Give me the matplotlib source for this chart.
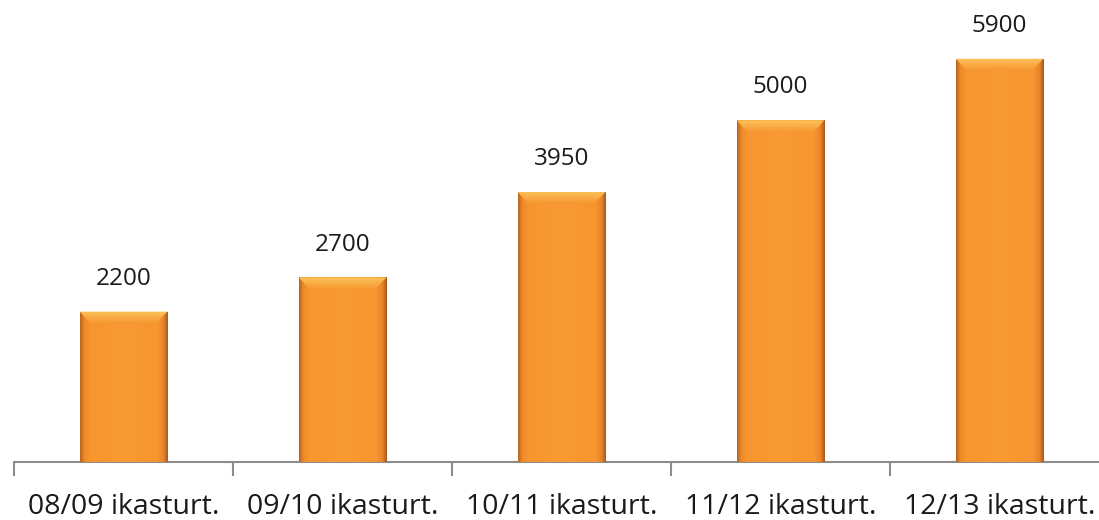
import numpy as np
import matplotlib
matplotlib.use("Agg")
import matplotlib.pyplot as plt
from matplotlib.colors import LinearSegmentedColormap
from matplotlib.patches import Polygon

categories = ["08/09 ikasturt.", "09/10 ikasturt.", "10/11 ikasturt.", "11/12 ikasturt.", "12/13 ikasturt."]
values = [2200, 2700, 3950, 5000, 5900]

W, H = 1099, 520
fig = plt.figure(figsize=(W / 100, H / 100), dpi=100)
ax = fig.add_axes([14 / W, 58 / H, 1095 / W, 462 / H])
ax.set_xlim(-0.5, 4.5)
ax.set_ylim(0, 6760)

x = np.arange(len(categories))
bars = ax.bar(x, values, width=0.4, color="#F5952F", edgecolor="none", zorder=2)

cmap = LinearSegmentedColormap.from_list(
    "bev", [(0.0, "#B8641C"), (0.05, "#EE8A2A"), (0.12, "#F7952F"), (0.5, "#F99A34"),
            (0.88, "#F7952F"), (0.95, "#E9852A"), (1.0, "#A9591A")])
grad = np.linspace(0, 1, 256).reshape(1, -1)
vcmap = LinearSegmentedColormap.from_list("vb", ["#F7952F", "#FCC35A"])
vgrad = np.linspace(0, 1, 64).reshape(-1, 1)
for b in bars:
    x0, w, h = b.get_x(), b.get_width(), b.get_height()
    im = ax.imshow(grad, cmap=cmap, aspect="auto", extent=(x0, x0 + w, 0, h), zorder=3)
    im.set_clip_path(b)
    bev = 0.13 * w
    bh = 180
    top = Polygon([(x0, h), (x0 + w, h), (x0 + w - bev, h - bh), (x0 + bev, h - bh)],
                  closed=True, facecolor="none", edgecolor="none", zorder=4)
    ax.add_patch(top)
    im2 = ax.imshow(vgrad, cmap=vcmap, aspect="auto", origin="lower",
                    extent=(x0, x0 + w, h - bh, h), zorder=4)
    im2.set_clip_path(top)
    ax.text(x0 + w / 2, h + 480, f"{int(h)}", ha="center", va="center",
            fontsize=17.5, family="Open Sans", color="#1a1a1a")

for s in ["top", "right", "left"]:
    ax.spines[s].set_visible(False)
ax.spines["bottom"].set_color("#8c8c8c")
ax.spines["bottom"].set_linewidth(1.5)
ax.set_yticks([])
ax.set_xticks(x)
ax.set_xticklabels(categories, fontsize=20.5, family="Open Sans", color="#1a1a1a")
ax.tick_params(axis="x", which="major", length=0, pad=22)
ax.set_xticks(np.arange(-0.5, 5, 1), minor=True)
ax.tick_params(axis="x", which="minor", length=10, width=1.5, color="#8c8c8c", direction="out")

fig.savefig("out.png", dpi=100)
